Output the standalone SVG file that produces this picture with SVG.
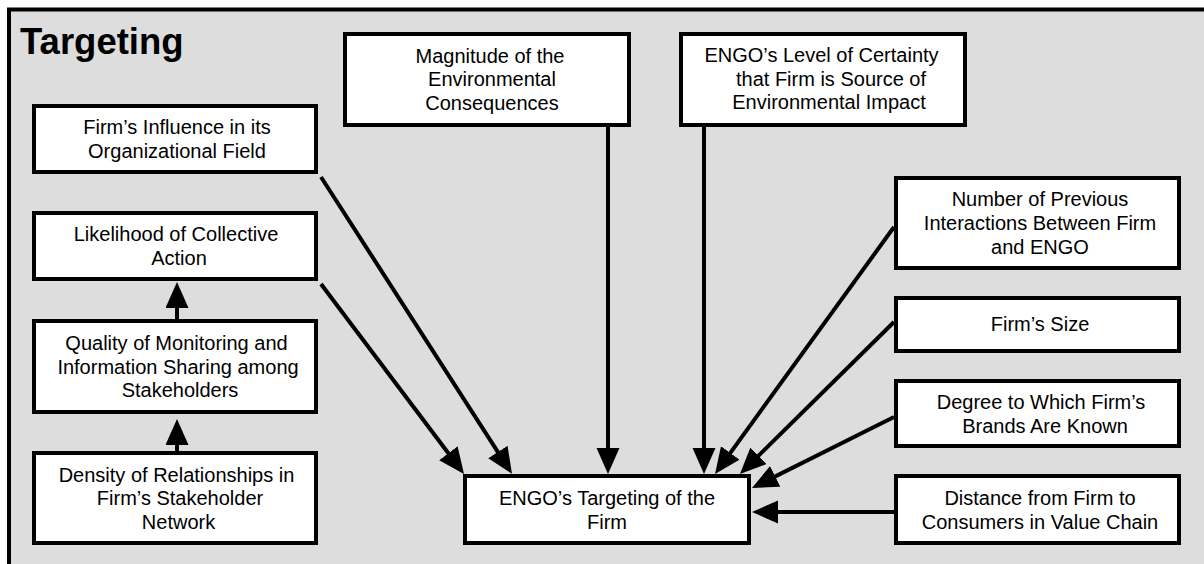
<svg xmlns="http://www.w3.org/2000/svg" width="1204" height="564" viewBox="0 0 1204 564">
<style>
.box{fill:#fff;stroke:#000;stroke-width:4}
.t{font-family:"Liberation Sans",Arial,sans-serif;font-size:20px;fill:#000;text-anchor:middle}
.title{font-family:"Liberation Sans",Arial,sans-serif;font-size:36.5px;font-weight:bold;fill:#000}
.c{stroke:#000;stroke-width:4;fill:none;marker-end:url(#ah)}
</style>
<defs>
<marker id="ah" markerUnits="userSpaceOnUse" markerWidth="27" markerHeight="24" refX="15" refY="11.5" orient="auto" viewBox="0 0 27 24">
<path d="M0,0 L26,11.5 L0,23 Z" fill="#000"/>
</marker>
</defs>
<rect x="9" y="9.5" width="1210" height="570" fill="#dddddd" stroke="#000" stroke-width="4"/>
<text class="title" x="20" y="54">Targeting</text>
<g id="connectors">
<line class="c" x1="321" y1="284" x2="457.4" y2="465.2"/>
<line class="c" x1="321" y1="177" x2="506" y2="464.6"/>
<line class="c" x1="608" y1="127" x2="608" y2="463"/>
<line class="c" x1="704" y1="127" x2="704" y2="463"/>
<line class="c" x1="894" y1="227" x2="721.5" y2="465.1"/>
<line class="c" x1="894" y1="322" x2="747.8" y2="466.3"/>
<line class="c" x1="894" y1="417" x2="761.8" y2="483.1"/>
<line class="c" x1="894" y1="512" x2="763" y2="512"/>
<line class="c" x1="177" y1="451" x2="177" y2="430"/>
<line class="c" x1="177" y1="319" x2="177" y2="293"/>
</g>
<g id="influence">
<rect class="box" x="34" y="106" width="282" height="66"/>
<text class="t" x="177" y="134">Firm’s Influence in its</text>
<text class="t" x="177" y="157.5">Organizational Field</text>
</g>
<g id="likelihood">
<rect class="box" x="34" y="213" width="282" height="66"/>
<text class="t" x="176" y="241">Likelihood of Collective</text>
<text class="t" x="179" y="264.5">Action</text>
</g>
<g id="quality">
<rect class="box" x="34" y="321" width="282" height="91"/>
<text class="t" x="176.5" y="350">Quality of Monitoring and</text>
<text class="t" x="178" y="373.5">Information Sharing among</text>
<text class="t" x="180" y="397">Stakeholders</text>
</g>
<g id="density">
<rect class="box" x="34" y="453" width="282" height="90"/>
<text class="t" x="176.5" y="481.5">Density of Relationships in</text>
<text class="t" x="180" y="505">Firm’s Stakeholder</text>
<text class="t" x="178.5" y="528.5">Network</text>
</g>
<g id="magnitude">
<rect class="box" x="345" y="34" width="284" height="91"/>
<text class="t" x="490" y="62.5">Magnitude of the</text>
<text class="t" x="492" y="86">Environmental</text>
<text class="t" x="492" y="109.5">Consequences</text>
</g>
<g id="certainty">
<rect class="box" x="681" y="34" width="284" height="91"/>
<text class="t" x="821.5" y="62">ENGO’s Level of Certainty</text>
<text class="t" x="831" y="85.5">that Firm is Source of</text>
<text class="t" x="829" y="109">Environmental Impact</text>
</g>
<g id="previous">
<rect class="box" x="896" y="178" width="283" height="90"/>
<text class="t" x="1040" y="205.5">Number of Previous</text>
<text class="t" x="1040" y="229.5">Interactions Between Firm</text>
<text class="t" x="1040" y="253.5">and ENGO</text>
</g>
<g id="size">
<rect class="box" x="896" y="298" width="283" height="53"/>
<text class="t" x="1040" y="331">Firm’s Size</text>
</g>
<g id="brands">
<rect class="box" x="896" y="381" width="283" height="65"/>
<text class="t" x="1041" y="409">Degree to Which Firm’s</text>
<text class="t" x="1045" y="433">Brands Are Known</text>
</g>
<g id="distance">
<rect class="box" x="896" y="476" width="283" height="67"/>
<text class="t" x="1040" y="505">Distance from Firm to</text>
<text class="t" x="1040" y="528.5">Consumers in Value Chain</text>
</g>
<g id="target">
<rect class="box" x="465" y="476" width="284" height="67"/>
<text class="t" x="607" y="505">ENGO’s Targeting of the</text>
<text class="t" x="607" y="528.5">Firm</text>
</g>
</svg>
